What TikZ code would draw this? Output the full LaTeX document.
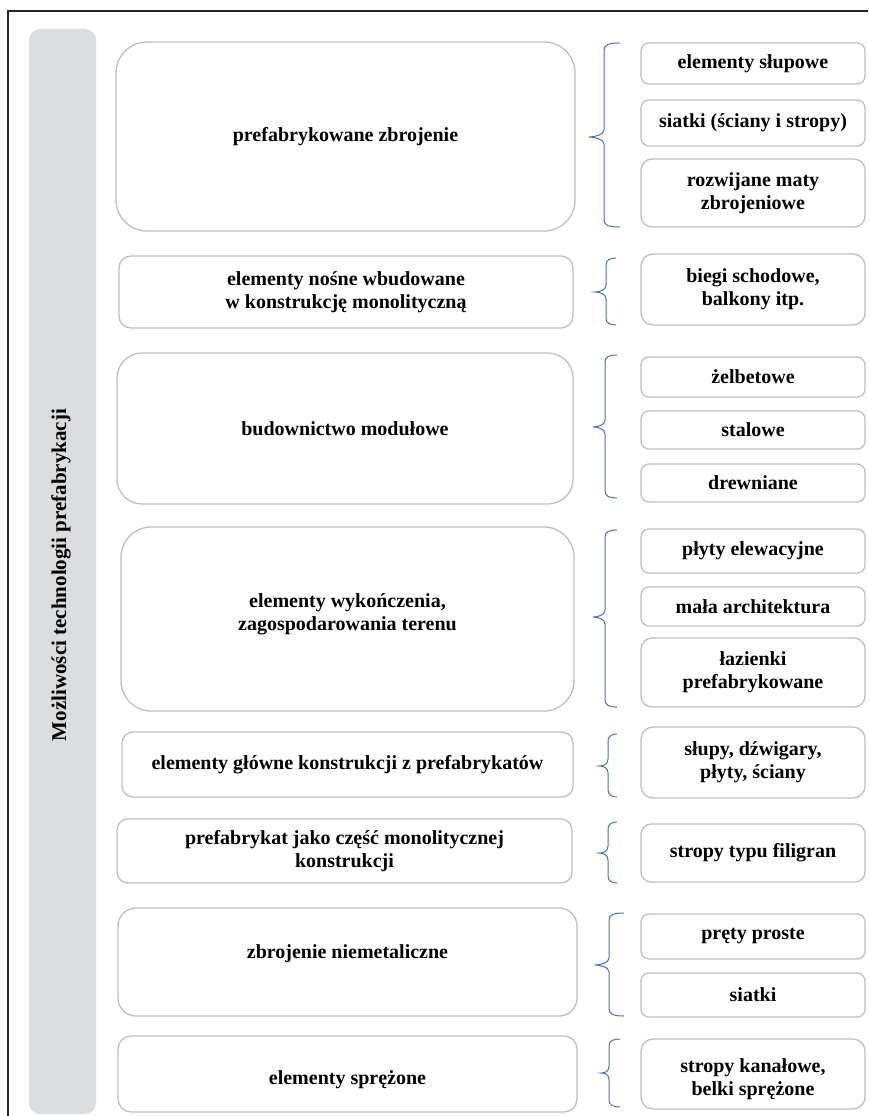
\documentclass[tikz,border=0pt]{standalone}
\usepackage{fontspec}
\setmainfont{Liberation Serif}
\definecolor{boxgray}{RGB}{191,191,191}
\definecolor{bracecol}{RGB}{68,114,196}
\definecolor{barfill}{RGB}{220,221,223}
\newcommand{\wbr}[6]{%
  \draw[brc] (#6,#1) .. controls ({#5+4},#1) and (#5,{#1+2}) .. (#5,{#1+7})
    -- (#5,{#3-7}) .. controls (#5,{#3-2}) and ({#4+5},#3) .. (#4,#3)
    .. controls ({#4+5},#3) and (#5,{#3+2}) .. (#5,{#3+7})
    -- (#5,{#2-7}) .. controls (#5,{#2-2}) and ({#5+4},#2) .. (#6,#2);}
\begin{document}
\begin{tikzpicture}[x=1pt,y=-1pt,
  gbox/.style={draw=boxgray, line width=1.3pt, fill=white, align=center,
    font=\bfseries\fontsize{20}{23}\selectfont, inner sep=0pt},
  rbox/.style={gbox, minimum width=224pt, rounded corners=8pt},
  txt/.style={align=center, font=\bfseries\fontsize{20}{23}\selectfont, inner sep=0pt},
  brc/.style={draw=bracecol, line width=1pt},
  frame/.style={draw=black!85, line width=1.2pt}]
\useasboundingbox (0,0) rectangle (868,1116);
% frame
\draw[frame] (8,1116) -- (8,11) -- (868,11);
% side bar
\fill[barfill, rounded corners=11pt] (29,29) rectangle (96,1114);
\node[rotate=90, font=\bfseries\fontsize{21}{24}\selectfont] (title) at (61,575)
  {Możliwości technologii prefabrykacji};
% left boxes
\node[gbox, minimum width=459pt, minimum height=189pt, rounded corners=31pt] (l1) at (345.5,136.5) {prefabrykowane zbrojenie};
\node[gbox, minimum width=454pt, minimum height=72pt, rounded corners=12pt] (l2) at (346,292) {elementy nośne wbudowane\\w konstrukcję monolityczną};
\node[gbox, minimum width=456pt, minimum height=151pt, rounded corners=25pt] (l3) at (345,428.5) {budownictwo modułowe};
\node[gbox, minimum width=453pt, minimum height=184pt, rounded corners=30pt] (l4) at (347.5,619) {};
\node[txt, yshift=5pt] (l4t) at (l4.center) {elementy wykończenia,\\zagospodarowania terenu};
\node[gbox, minimum width=451pt, minimum height=65pt, rounded corners=11pt] (l5) at (347.5,764.5) {elementy główne konstrukcji z prefabrykatów};
\node[gbox, minimum width=455pt, minimum height=64pt, rounded corners=11pt] (l6) at (344.5,851) {prefabrykat jako część monolitycznej\\konstrukcji};
\node[gbox, minimum width=459pt, minimum height=108pt, rounded corners=18pt] (l7) at (347.5,962) {};
\node[txt, yshift=8pt] (l7t) at (l7.center) {zbrojenie niemetaliczne};
\node[gbox, minimum width=459pt, minimum height=76pt, rounded corners=13pt] (l8) at (347.5,1074) {};
\node[txt, yshift=-6pt] (l8t) at (l8.center) {elementy sprężone};
% right boxes
\node[rbox, minimum height=41pt] (r1a) at (753,63.5) {elementy słupowe};
\node[rbox, minimum height=46pt] (r1b) at (753,123) {siatki (ściany i stropy)};
\node[rbox, minimum height=68pt, rounded corners=11pt] (r1c) at (753,193) {rozwijane maty\\zbrojeniowe};
\node[rbox, minimum height=71pt, rounded corners=12pt] (r2) at (753,289.5) {biegi schodowe,\\balkony itp.};
\node[rbox, minimum height=40pt] (r3a) at (753,377) {żelbetowe};
\node[rbox, minimum height=38pt] (r3b) at (753,430) {stalowe};
\node[rbox, minimum height=38pt] (r3c) at (753,483) {drewniane};
\node[rbox, minimum height=44pt] (r4a) at (753,551) {płyty elewacyjne};
\node[rbox, minimum height=39pt] (r4b) at (753,606.5) {mała architektura};
\node[rbox, minimum height=69pt, rounded corners=11pt] (r4c) at (753,672.5) {łazienki\\prefabrykowane};
\node[rbox, minimum height=71pt, rounded corners=12pt] (r5) at (753,762.5) {słupy, dźwigary,\\płyty, ściany};
\node[rbox, minimum height=58pt, rounded corners=10pt] (r6) at (753,853) {stropy typu filigran};
\node[rbox, minimum height=45pt] (r7a) at (753,936.5) {pręty proste};
\node[rbox, minimum height=44pt] (r7b) at (753,995) {siatki};
\node[rbox, minimum height=70pt, rounded corners=12pt] (r8) at (753,1074) {};
\node[txt, yshift=-5pt] (r8t) at (r8.center) {stropy kanałowe,\\belki sprężone};
% braces: top, bottom, tip y, tip x, vertical x, end x
\wbr{43}{227}{137}{589}{604}{620}
\wbr{258}{325}{292}{595}{606}{616}
\wbr{355}{498}{427}{593}{605}{617}
\wbr{530}{707}{617}{593}{605}{617}
\wbr{734}{797}{766}{599}{608}{617}
\wbr{822}{883}{853}{599}{608}{617}
\wbr{913}{1016}{965}{595}{609}{624}
\wbr{1039}{1107}{1073}{601}{609}{620}
\end{tikzpicture}
\end{document}
